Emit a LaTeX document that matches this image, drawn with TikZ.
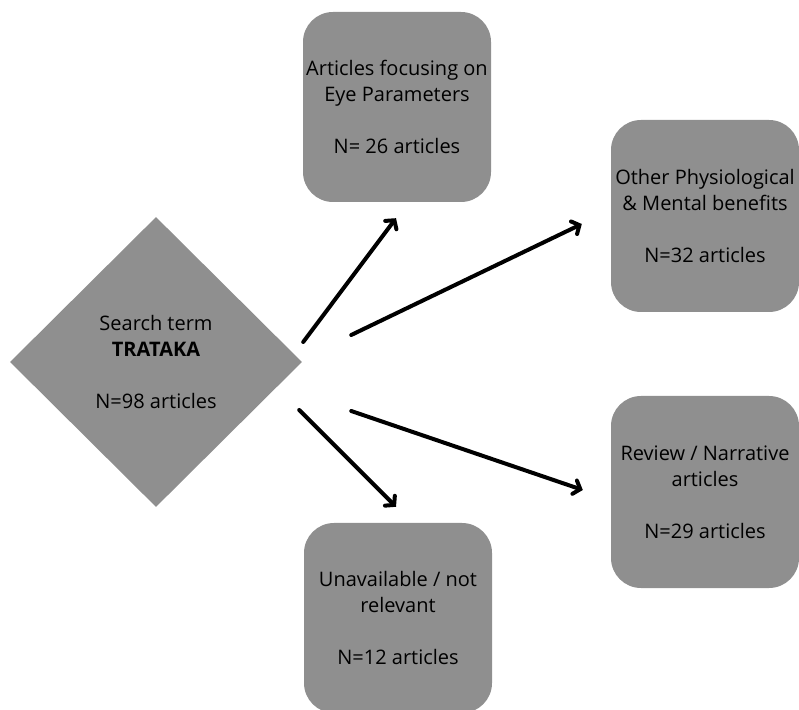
\documentclass[tikz,border=0pt]{standalone}
\usepackage{fontspec}
\setmainfont{Open Sans}
\usetikzlibrary{arrows.meta,shapes.geometric}

\definecolor{boxgray}{RGB}{143,143,143}

\begin{document}
\begin{tikzpicture}[x=1pt,y=1pt,
    box/.style={fill=boxgray,rounded corners=30pt,align=center,minimum width=188pt,
        minimum height=190pt,inner sep=0pt,font=\fontsize{20}{26}\selectfont},
    arrow/.style={-{Straight Barb[length=6pt,width=14pt,line cap=round]},
        line width=4pt,line cap=round}
]
\useasboundingbox (0,0) rectangle (799,709);
\clip (0,0) rectangle (799,709);
\node[diamond,fill=boxgray,minimum width=292pt,minimum height=290pt,inner sep=0pt,
    align=center,font=\fontsize{20}{26}\selectfont] (search) at (156,347)
    {Search term\\\textbf{TRATAKA}\\[26pt]N=98 articles};
\node[box] (eye) at (397,602)
    {Articles focusing on\\Eye Parameters\\[26pt]N= 26 articles};
\node[box,minimum height=192pt] (other) at (705,493)
    {Other Physiological\\\& Mental benefits\\[26pt]N=32 articles};
\node[box,minimum height=192pt] (review) at (705,217)
    {Review / Narrative\\articles\\[26pt]N=29 articles};
\node[box] (unavail) at (398,91)
    {Unavailable / not\\relevant\\[26pt]N=12 articles};
\draw[arrow] ([shift={(1,20)}]search.east) -- ([shift={(-1,-16)}]eye.south);
\draw[arrow] ([shift={(49,27)}]search.east) -- ([shift={(-29,-8)}]other.west);
\draw[arrow] ([shift={(-3,-48)}]search.east) -- ([shift={(-2,16)}]unavail.north);
\draw[arrow] ([shift={(49,-49)}]search.east) -- ([shift={(-28,2)}]review.west);
\end{tikzpicture}
\end{document}
